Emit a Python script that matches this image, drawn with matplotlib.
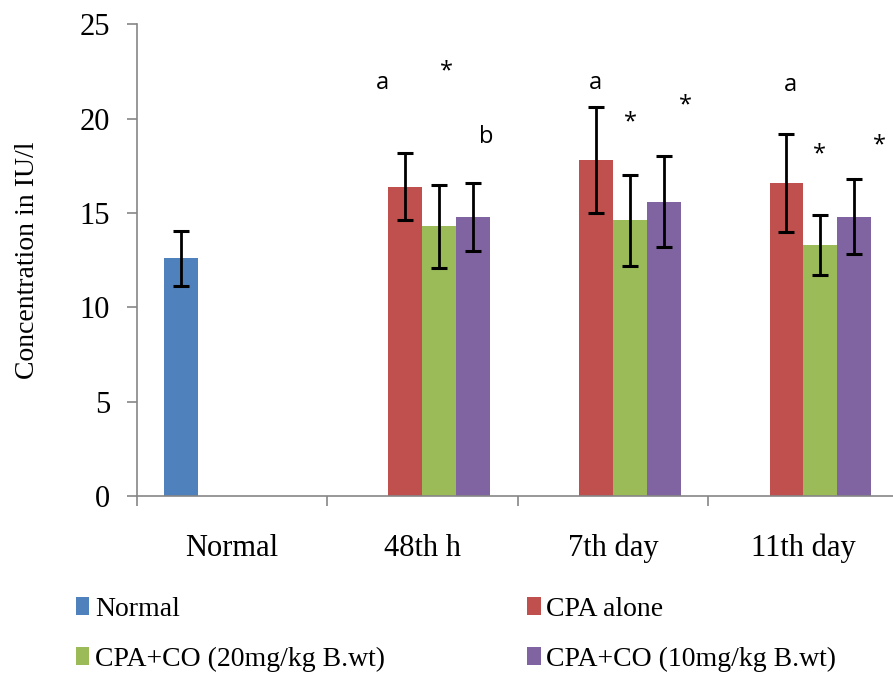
import numpy as np
import matplotlib.pyplot as plt

# данные
groups = ['Normal', '48th h', '7th day', '11th day']
series = ['Normal', 'CPA alone', 'CPA+CO (20mg/kg B.wt)', 'CPA+CO (10mg/kg B.wt)']
colors = ['#4F81BD', '#C0504D', '#9BBB59', '#8064A2']

normal_val = [12.6, np.nan, np.nan, np.nan]
normal_err = [1.45, 0, 0, 0]
cpa_val = [np.nan, 16.4, 17.8, 16.6]
cpa_err = [0, 1.8, 2.8, 2.6]
co20_val = [np.nan, 14.3, 14.6, 13.3]
co20_err = [0, 2.2, 2.4, 1.6]
co10_val = [np.nan, 14.8, 15.6, 14.8]
co10_err = [0, 1.8, 2.4, 2.0]

# подписи значимости: (текст, группа, сдвиг по x, y)
marks = ['a', '*', 'b', 'a', '*', '*', 'a', '*', '*']
mark_group = [1, 1, 1, 2, 2, 2, 3, 3, 3]
mark_dx = [-0.21, 0.127, 0.337, -0.091, 0.093, 0.382, -0.067, 0.085, 0.40]
mark_y = [21.9, 22.5, 19.0, 21.9, 19.8, 20.7, 21.8, 18.1, 18.6]

plt.rcParams['font.family'] = ['Liberation Serif', 'DejaVu Serif']

fig = plt.figure(figsize=(8.93, 6.73), dpi=100)
ax = fig.add_axes([0.153, 0.263, 0.847, 0.701])

x = np.arange(len(groups))
w = 0.178
vals = [normal_val, cpa_val, co20_val, co10_val]
errs = [normal_err, cpa_err, co20_err, co10_err]
bars = []
for k in range(4):
    v = np.array(vals[k], dtype=float)
    e = np.array(errs[k], dtype=float)
    pos = x + (k - 1.5) * w
    b = ax.bar(pos, v, w, color=colors[k], label=series[k], zorder=2)
    bars.append(b)
    ok = ~np.isnan(v)
    ax.errorbar(pos[ok], v[ok], yerr=e[ok], fmt='none', ecolor='black',
                elinewidth=2, capsize=5.5, capthick=2.2, zorder=3)

for i in range(len(marks)):
    ax.text(mark_group[i] + mark_dx[i], mark_y[i], marks[i], ha='center', va='center',
            fontsize=17, family=['Open Sans', 'DejaVu Sans'])

ax.set_xlim(-0.5, 3.47)
ax.set_ylim(0, 25)
ax.set_yticks(np.arange(0, 26, 5))
ax.set_xticks(x)
ax.set_xticklabels(groups)
ax.set_xticks([-0.5, 0.5, 1.5, 2.5], minor=True)
ax.tick_params(axis='x', which='major', length=0, pad=27, labelsize=22)
ax.tick_params(axis='x', which='minor', length=7, color='#868686', width=1.2)
ax.tick_params(axis='y', length=7, color='#868686', width=1.2, pad=12, labelsize=22)
for s in ['top', 'right']:
    ax.spines[s].set_visible(False)
for s in ['left', 'bottom']:
    ax.spines[s].set_color('#868686')
    ax.spines[s].set_linewidth(1.2)
ax.set_ylabel('Concentration in IU/l', fontsize=20)
ax.yaxis.set_label_coords(-0.128, 0.5)

# легенда заполняется по столбцам, поэтому порядок меняем
order = [0, 2, 1, 3]
fig.legend([bars[i] for i in order], [series[i] for i in order],
           loc='lower left', bbox_to_anchor=(0.069, -0.019), ncol=2, frameon=False,
           fontsize=20, handlelength=0.5, handleheight=0.6, handletextpad=0.2,
           columnspacing=5.1, labelspacing=0.9, borderpad=0.0)

fig.savefig('out.png', dpi=100)
